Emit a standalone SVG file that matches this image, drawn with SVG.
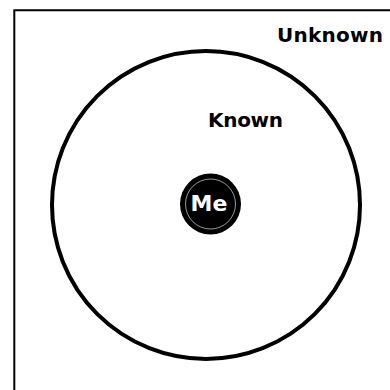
<svg xmlns="http://www.w3.org/2000/svg" width="390" height="390" viewBox="0 0 390 390">
<style>
.lbl{font-family:"DejaVu Sans","Liberation Sans",sans-serif;font-weight:bold;font-size:20px;fill:#000}
</style>
<rect width="390" height="390" fill="#fff"/>
<g id="unknown">
<path d="M14.3,400 V10.3 H400" fill="none" stroke="#000" stroke-width="2"/>
<text class="lbl" x="277" y="42" textLength="106">Unknown</text>
</g>
<g id="known">
<circle cx="206" cy="205" r="154" fill="none" stroke="#000" stroke-width="4"/>
<text class="lbl" x="208" y="127" textLength="75">Known</text>
</g>
<g id="me">
<circle cx="210.5" cy="204" r="30.5" fill="#000"/>
<circle cx="210.5" cy="204" r="25" fill="none" stroke="#fff" stroke-width="0.6"/>
<text x="209" y="210.5" text-anchor="middle" style="font-family:'DejaVu Sans','Liberation Sans',sans-serif;font-weight:bold;font-size:22px;fill:#fff">Me</text>
</g>
<g id="connectors"/>
</svg>
